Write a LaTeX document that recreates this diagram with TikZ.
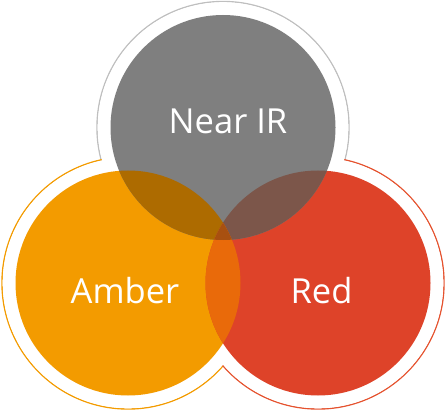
\documentclass[tikz,border=0pt]{standalone}
\usepackage{fontspec}
\setmainfont{Open Sans}
\definecolor{NirGray}{HTML}{7F7F7F}
\definecolor{NirRing}{HTML}{BFBFBF}
\definecolor{AmberFill}{HTML}{F39B00}
\definecolor{RedFill}{HTML}{DE4329}
\definecolor{RedRing}{HTML}{E5532F}
\definecolor{AmberNir}{HTML}{AD6B00}
\definecolor{RedNir}{HTML}{7C564A}
\definecolor{AmberRed}{HTML}{E96A0A}
\definecolor{AllThree}{HTML}{A85010}
\usetikzlibrary{positioning}

\begin{document}
\begin{tikzpicture}[x=1pt, y=-1pt,
    ring/.style={line width=1.4pt},
    label/.style={text=white, font=\fontsize{34.5}{40}\selectfont, inner sep=0pt},
]
    \useasboundingbox (0,0) rectangle (446,411);
    \coordinate (nir) at (223,127.5);
    \coordinate (amber) at (128,283);
    \coordinate (red) at (318,283);
    \def\rin{112.5}
    \def\rout{126}

    % outer rings
    \draw[ring, NirRing] (nir) circle[radius=\rout];
    \draw[ring, AmberFill] (amber) circle[radius=\rout];
    \draw[ring, RedRing] (red) circle[radius=\rout];
    \fill[white] (nir) circle[radius=\rout-0.7] (amber) circle[radius=\rout-0.7] (red) circle[radius=\rout-0.7];

    % circles
    \fill[AmberFill] (amber) circle[radius=\rin];
    \fill[RedFill] (red) circle[radius=\rin];
    \fill[NirGray] (nir) circle[radius=\rin];

    % overlaps
    \begin{scope}
        \clip (nir) circle[radius=\rin];
        \fill[AmberNir] (amber) circle[radius=\rin];
        \fill[RedNir] (red) circle[radius=\rin];
    \end{scope}
    \begin{scope}
        \clip (amber) circle[radius=\rin];
        \fill[AmberRed] (red) circle[radius=\rin];
        \clip (nir) circle[radius=\rin];
        \fill[AllThree] (red) circle[radius=\rin];
    \end{scope}

    % labels
    \node[label] (nirlabel) at (228,121) {Near IR};
    \node[label] (amberlabel) at (125,291) {Amber};
    \node[label] (redlabel) at (321.5,291) {Red};
\end{tikzpicture}
\end{document}
